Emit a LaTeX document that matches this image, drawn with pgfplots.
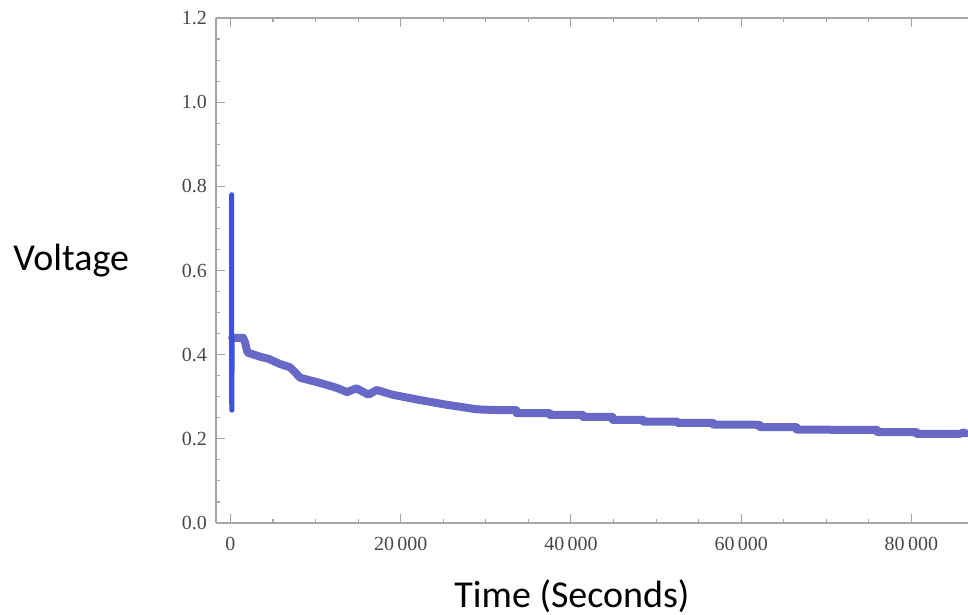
\documentclass[border=0pt]{standalone}
\usepackage{fontspec}
\setmainfont{Liberation Serif}
\newfontfamily\labelfont{Carlito}
\usepackage{pgfplots}
\pgfplotsset{compat=1.18}

\definecolor{axisgray}{RGB}{165,165,165}
\definecolor{curveblue}{RGB}{104,104,198}
\definecolor{spikeblue}{RGB}{62,82,212}

\begin{document}
\begin{tikzpicture}
\begin{axis}[
  scale only axis, width=752bp, height=505bp,
  xmin=-1700, xmax=86650, ymin=0, ymax=1.2,
  axis x line*=box, axis y line*=left,
  axis line style={axisgray, line width=1.3bp},
  tick style={axisgray, line width=1.1bp},
  tick align=inside,
  major tick length=9bp, minor tick length=4.5bp,
  xtick={0,20000,40000,60000,80000},
  ytick={0,0.2,0.4,0.6,0.8,1.0,1.2},
  minor x tick num=3, minor y tick num=3,
  scaled x ticks=false, scaled y ticks=false,
  tick label style={font=\fontsize{20bp}{24bp}\selectfont, text=black!72},
  /pgf/number format/assume math mode=true,
  xticklabel style={anchor=north, inner sep=0pt, yshift=-14bp,
    /pgf/number format/1000 sep={\,}},
  yticklabel style={anchor=east, inner sep=0pt, xshift=-9bp,
    /pgf/number format/.cd, fixed, fixed zerofill, precision=1},
  xlabel={Time (Seconds)}, ylabel={Voltage},
  every axis x label/.style={at={(axis description cs:0.4734,0)},
    anchor=base, yshift=-84bp, font=\labelfont\fontsize{38bp}{44bp}\selectfont},
  every axis y label/.style={at={(axis description cs:-0.274,0.500)},
    anchor=base west, font=\labelfont\fontsize{38bp}{44bp}\selectfont},
]
% slow decay after the start
\addplot[curveblue, line width=8bp, line join=round, line cap=round] coordinates {
  (200,0.440) (1500,0.440) (1700,0.430) (2000,0.405) (3500,0.395)
  (4500,0.390) (5800,0.378) (7000,0.370) (7500,0.360) (8200,0.345)
  (10500,0.333) (12500,0.321) (13700,0.311) (14800,0.320) (16200,0.305)
  (17200,0.316) (19000,0.305) (22300,0.292) (25400,0.281) (29000,0.270)
  (31700,0.268) (33600,0.268) (33600,0.261) (37500,0.261) (37500,0.257)
  (41400,0.257) (41400,0.252) (44900,0.252) (44900,0.245) (48500,0.245)
  (48500,0.241) (52500,0.241) (52500,0.238) (56700,0.238) (56700,0.234)
  (61000,0.234) (62200,0.233) (62200,0.228) (66500,0.228) (66500,0.222)
  (76000,0.221) (76000,0.216) (80600,0.216) (80600,0.212) (83400,0.212)
  (85700,0.212) (86100,0.215) (86400,0.213)
};
% initial spike
\addplot[spikeblue, line width=5bp, line join=round, line cap=round] coordinates {
  (140,0.780) (140,0.300) (160,0.268) (180,0.300) (180,0.360)
  (200,0.440)
};
\coordinate (sw) at (rel axis cs:0,0);
\coordinate (ne) at (rel axis cs:1,1);
\end{axis}
\pgfresetboundingbox
\path[use as bounding box] ([xshift=-216bp,yshift=-92bp]sw) rectangle ([yshift=18bp]ne);
\end{tikzpicture}
\end{document}
